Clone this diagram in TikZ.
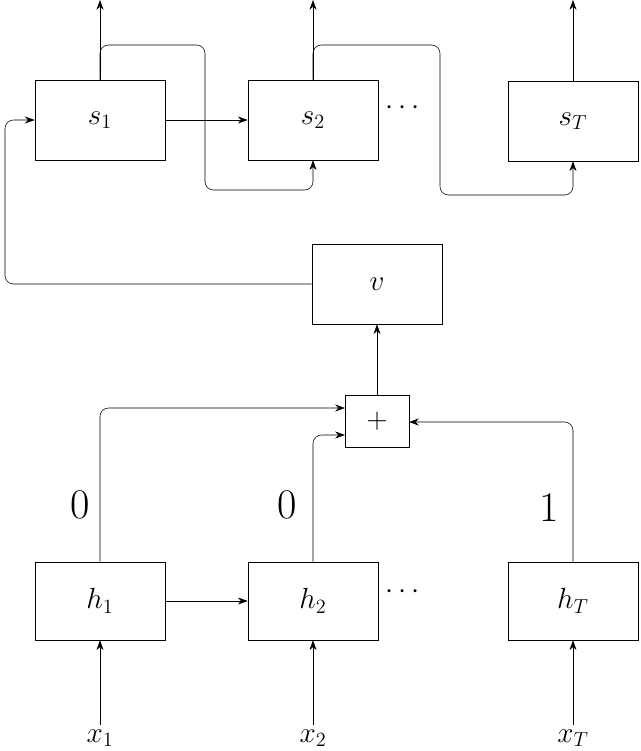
\documentclass[tikz,border=0pt]{standalone}
\usetikzlibrary{arrows.meta}
\begin{document}
\begin{tikzpicture}[x=0.025cm,y=-0.025cm,>={Stealth[length=7pt,width=5pt]},
  box/.style={draw,minimum width=3.25cm,minimum height=2cm,inner sep=0pt,font=\fontsize{22}{24}\selectfont},
  lbl/.style={font=\fontsize{30}{32}\selectfont},
  conn/.style={->,rounded corners=6pt}]
\useasboundingbox (0,0) rectangle (640,751);
\node[box] (s1) at (100,120) {$s_1$};
\node[box] (s2) at (313,120) {$s_2$};
\node[box] (sT) at (573,121) {$s_T$};
\node[font=\fontsize{22}{24}\selectfont] (d1) at (403,108) {$\cdots$};
\node[box] (v) at (377,284) {$v$};
\node[draw,minimum width=1.6cm,minimum height=1.3cm,inner sep=0pt,font=\fontsize{22}{24}\selectfont] (p) at (377,421) {$+$};
\node[box,minimum height=1.95cm] (h1) at (100,601) {$h_1$};
\node[box,minimum height=1.95cm] (h2) at (313,601) {$h_2$};
\node[box,minimum height=1.95cm] (hT) at (573,601) {$h_T$};
\node[font=\fontsize{22}{24}\selectfont] (d2) at (403,592) {$\cdots$};
\node[font=\fontsize{22}{24}\selectfont] (x1) at (100,738) {$x_1$};
\node[font=\fontsize{22}{24}\selectfont] (x2) at (313,738) {$x_2$};
\node[font=\fontsize{22}{24}\selectfont] (xT) at (573,738) {$x_T$};
\node[lbl] (l1) at (80,505) {0};
\node[lbl] (l2) at (287,505) {0};
\node[lbl] (l3) at (549,508) {1};
\coordinate (o1) at (100,0);
\coordinate (o2) at (313,0);
\coordinate (o3) at (573,0);
\coordinate (pa) at (345,408);
\coordinate (pb) at (345,435);
\coordinate (pc) at (409,422);
\foreach \n/\o in {s1/o1,s2/o2,sT/o3} \draw[->] (\n.north) -- (\o);
\foreach \n/\x in {h1/x1,h2/x2,hT/xT} \draw[->] (\x.north) -- (\n.south);
\draw[->] (s1.east) -- (s2.west);
\draw[->] (h1.east) -- (h2.west);
\draw[conn] (s1.north) |- (205,45) -- (205,190) -| (s2.south);
\draw[conn] (s2.north) |- (440,45) -- (440,195) -| (sT.south);
\draw[conn] (v.west) -| (5,120) -- (s1.west);
\draw[->] (p.north) -- (v.south);
\draw[conn] (h1.north) |- (pa);
\draw[conn] (h2.north) |- (pb);
\draw[conn] (hT.north) |- (pc);
\end{tikzpicture}
\end{document}
